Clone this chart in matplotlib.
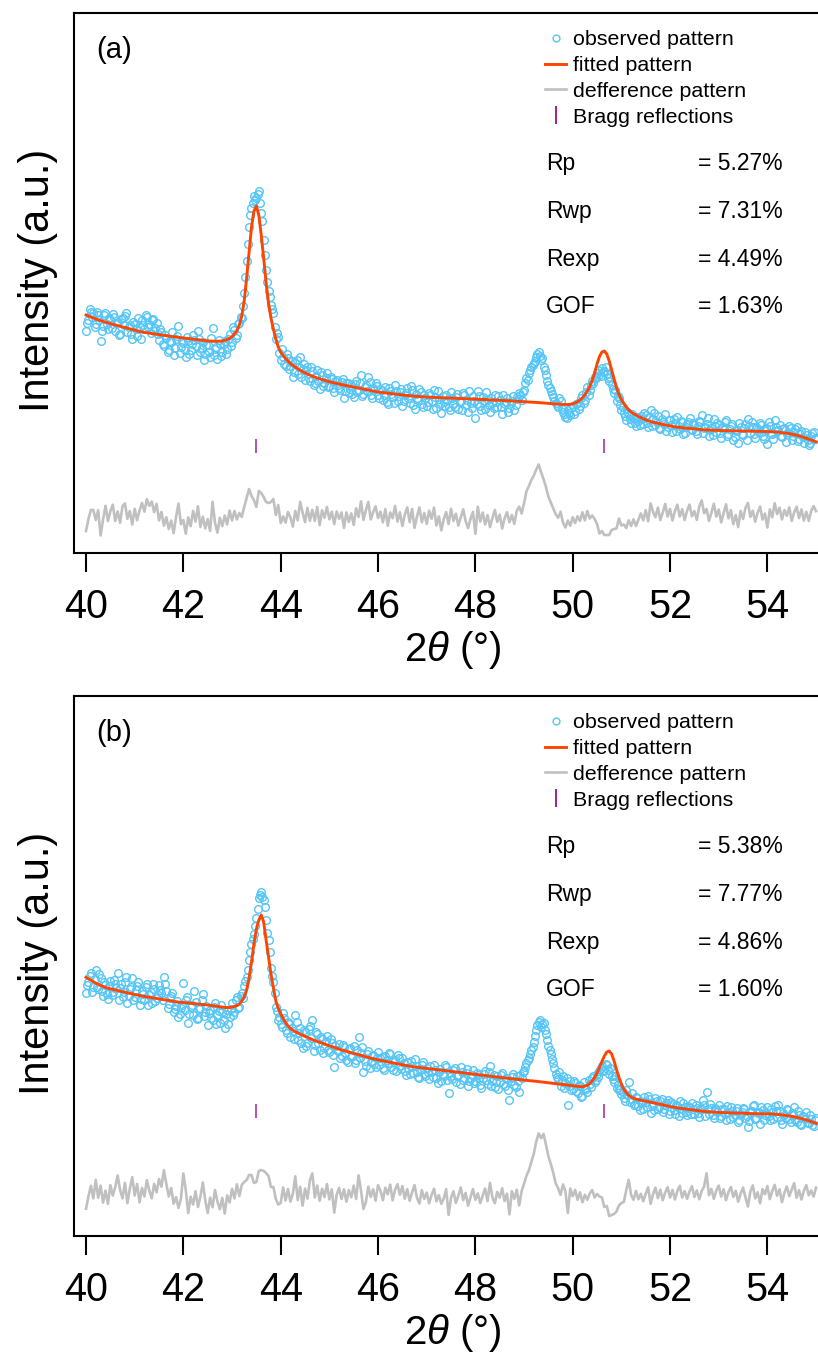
import numpy as np
import matplotlib
matplotlib.use("Agg")
import matplotlib.pyplot as plt
from matplotlib.lines import Line2D

plt.rcParams["font.family"] = ["Liberation Sans", "DejaVu Sans"]
plt.rcParams["mathtext.fontset"] = "custom"
plt.rcParams["mathtext.rm"] = "Liberation Sans"
plt.rcParams["mathtext.it"] = "Liberation Sans:italic"

# ---------------- data ----------------
# main 2theta grid 40.00 ... 55.00 (step 0.05); observed data also read at the
# intermediate positions 40.025 ... 54.975
two_theta_start = 40.0
two_theta_step = 0.05
n_points = 301

obs_a = [
    222, 233, 241, 240, 229, 238, 212, 227, 240, 224,
    233, 239, 222, 231, 219, 235, 237, 221, 228, 214,
    229, 217, 226, 233, 224, 236, 229, 233, 222, 230,
    213, 221, 207, 215, 203, 211, 198, 214, 227, 206,
    210, 196, 212, 203, 218, 207, 222, 201, 211, 199,
    208, 196, 225, 204, 194, 209, 201, 212, 204, 219,
    211, 223, 218, 230, 235, 260, 292, 326, 345, 357,
    355, 362, 340, 313, 283, 262, 248, 240, 214, 216,
    193, 196, 187, 195, 187, 176, 190, 179, 196, 184,
    173, 186, 172, 182, 170, 183, 164, 178, 170, 180,
    167, 174, 161, 173, 165, 171, 155, 170, 160, 168,
    156, 172, 163, 178, 159, 168, 176, 158, 165, 170,
    158, 164, 153, 166, 149, 162, 156, 168, 152, 161,
    147, 158, 165, 150, 163, 144, 155, 164, 149, 158,
    147, 160, 152, 163, 145, 154, 140, 151, 158, 146,
    161, 149, 156, 144, 152, 160, 148, 141, 150, 157,
    135, 162, 147, 156, 144, 153, 141, 150, 158, 146,
    153, 139, 149, 155, 145, 152, 143, 156, 160, 153,
    163, 175, 180, 186, 190, 196, 201, 193, 186, 178,
    168, 162, 156, 150, 146, 152, 141, 136, 143, 138,
    147, 142, 150, 147, 158, 153, 166, 163, 172, 176,
    180, 178, 185, 182, 179, 172, 168, 160, 152, 155,
    143, 140, 133, 138, 130, 135, 127, 132, 137, 129,
    138, 126, 143, 134, 128, 137, 124, 131, 139, 126,
    133, 121, 130, 136, 124, 131, 120, 129, 135, 123,
    128, 119, 132, 138, 125, 129, 117, 125, 134, 121,
    128, 115, 124, 133, 119, 127, 113, 122, 110, 126,
    118, 129, 134, 120, 126, 115, 124, 130, 117, 123,
    109, 127, 119, 133, 122, 128, 116, 125, 119, 127,
    113, 121, 126, 114, 122, 110, 118, 108, 117, 121,
    115,
]

obs_a_mid = [
    230, 244, 236, 226, 241, 233, 222, 238, 229, 235,
    225, 236, 230, 218, 234, 228, 240, 226, 219, 231,
    224, 235, 214, 228, 238, 226, 220, 234, 225, 219,
    224, 209, 218, 201, 212, 221, 205, 217, 200, 212,
    203, 216, 199, 209, 213, 198, 214, 205, 193, 208,
    201, 215, 198, 206, 213, 197, 209, 199, 214, 207,
    226, 215, 229, 236, 247, 276, 309, 338, 350, 353,
    359, 350, 332, 298, 271, 256, 244, 226, 220, 200,
    204, 189, 199, 184, 192, 181, 193, 186, 176, 189,
    183, 175, 186, 168, 177, 172, 181, 167, 175, 166,
    176, 165, 172, 168, 163, 174, 162, 170, 164, 159,
    169, 161, 170, 157, 166, 162, 171, 155, 163, 167,
    155, 163, 158, 151, 165, 159, 150, 162, 157, 164,
    152, 160, 155, 167, 148, 159, 153, 161, 146, 155,
    151, 158, 144, 156, 162, 149, 157, 147, 153, 143,
    155, 146, 159, 151, 143, 158, 153, 162, 145, 152,
    149, 157, 143, 152, 161, 148, 155, 145, 151, 157,
    146, 158, 151, 141, 150, 157, 148, 154, 158, 161,
    170, 173, 183, 188, 192, 199, 197, 195, 183, 172,
    165, 159, 152, 148, 155, 144, 139, 135, 140, 145,
    139, 149, 144, 155, 150, 161, 158, 168, 170, 175,
    183, 177, 181, 186, 175, 176, 164, 163, 157, 148,
    146, 137, 141, 134, 139, 130, 136, 128, 134, 140,
    130, 136, 127, 140, 131, 125, 134, 129, 122, 133,
    128, 134, 122, 127, 132, 119, 126, 131, 124, 130,
    122, 127, 131, 120, 126, 135, 123, 118, 127, 130,
    120, 126, 131, 117, 124, 129, 116, 123, 130, 119,
    125, 113, 127, 131, 119, 126, 121, 128, 114, 125,
    131, 120, 114, 126, 123, 117, 124, 111, 121, 125,
    117, 124, 112, 119, 116, 121, 113, 110, 120, 114,
]

fit_a = [
    238.0, 237.0, 236.0, 235.0, 234.0, 233.2, 232.4, 231.6, 230.8, 230.0,
    229.3, 228.7, 228.0, 227.4, 226.7, 226.1, 225.4, 224.8, 224.1, 223.5,
    222.8, 222.2, 221.5, 221.0, 220.6, 220.2, 219.8, 219.5, 219.1, 218.8,
    218.4, 218.0, 217.7, 217.3, 217.0, 216.6, 216.2, 215.9, 215.6, 215.3,
    215.0, 214.7, 214.4, 214.2, 213.9, 213.6, 213.3, 213.0, 212.7, 212.4,
    212.1, 211.9, 211.8, 211.7, 211.7, 211.8, 212.0, 212.6, 213.5, 214.6,
    216.5, 219.0, 222.5, 228.0, 237.0, 252.0, 275.0, 300.0, 326.0, 342.0,
    347.0, 338.0, 318.0, 295.0, 270.0, 250.0, 235.0, 224.0, 214.0, 206.0,
    201.0, 197.5, 194.5, 192.0, 189.5, 187.6, 185.9, 184.3, 182.8, 181.4,
    180.1, 178.9, 177.8, 176.8, 175.9, 175.0, 174.2, 173.4, 172.7, 172.0,
    171.3, 170.7, 170.1, 169.5, 168.9, 168.4, 167.9, 167.4, 166.9, 166.4,
    165.9, 165.4, 164.9, 164.4, 163.9, 163.4, 162.9, 162.4, 161.9, 161.4,
    161.0, 160.7, 160.4, 160.1, 159.8, 159.5, 159.2, 158.9, 158.6, 158.3,
    158.0, 157.7, 157.4, 157.2, 157.0, 156.8, 156.6, 156.4, 156.2, 156.0,
    155.9, 155.8, 155.7, 155.6, 155.5, 155.4, 155.3, 155.2, 155.1, 155.0,
    154.9, 154.8, 154.7, 154.6, 154.4, 154.3, 154.2, 154.1, 154.0, 153.9,
    153.8, 153.7, 153.6, 153.5, 153.4, 153.2, 153.1, 153.0, 152.9, 152.8,
    152.6, 152.5, 152.4, 152.3, 152.2, 152.0, 151.9, 151.8, 151.6, 151.5,
    151.3, 151.2, 151.0, 150.9, 150.7, 150.6, 150.4, 150.3, 150.1, 149.9,
    149.7, 149.5, 149.3, 149.1, 148.9, 148.7, 148.6, 148.5, 148.5, 148.7,
    149.2, 150.0, 151.3, 153.0, 155.3, 158.3, 162.0, 166.5, 172.5, 180.0,
    189.0, 196.5, 201.0, 202.0, 199.0, 192.0, 183.0, 174.0, 165.5, 158.5,
    153.5, 149.5, 146.0, 143.3, 141.0, 139.3, 137.9, 136.6, 135.4, 134.3,
    133.2, 132.2, 131.4, 130.8, 130.2, 129.6, 129.1, 128.6, 128.0, 127.5,
    127.0, 126.5, 126.1, 125.8, 125.5, 125.3, 125.0, 124.8, 124.6, 124.3,
    124.1, 123.9, 123.6, 123.4, 123.2, 123.0, 122.9, 122.8, 122.7, 122.6,
    122.5, 122.4, 122.4, 122.3, 122.3, 122.2, 122.2, 122.1, 122.1, 122.0,
    122.0, 121.9, 121.9, 121.8, 121.8, 121.7, 121.7, 121.6, 121.6, 121.5,
    121.5, 121.4, 121.3, 121.2, 121.0, 120.7, 120.4, 120.1, 119.8, 119.4,
    118.9, 118.4, 117.8, 117.1, 116.4, 115.6, 114.8, 113.9, 113.0, 112.1,
    111.2,
]

obs_b = [
    243, 254, 263, 249, 266, 247, 258, 240, 251, 237,
    255, 244, 252, 263, 248, 239, 254, 233, 247, 258,
    239, 250, 231, 245, 236, 252, 241, 233, 247, 238,
    251, 243, 259, 245, 232, 240, 224, 230, 219, 228,
    253, 236, 213, 229, 221, 234, 218, 228, 242, 224,
    211, 226, 216, 233, 221, 213, 224, 208, 226, 219,
    233, 224, 239, 229, 243, 250, 259, 276, 292, 302,
    318, 338, 344, 336, 316, 296, 268, 254, 229, 216,
    212, 223, 206, 214, 199, 205, 221, 196, 208, 188,
    204, 193, 210, 216, 191, 202, 186, 197, 188, 200,
    184, 193, 169, 186, 192, 180, 189, 176, 187, 179,
    190, 176, 199, 183, 164, 170, 185, 174, 181, 169,
    184, 178, 168, 180, 173, 182, 166, 176, 181, 170,
    178, 165, 174, 162, 170, 177, 164, 158, 171, 162,
    168, 157, 165, 171, 158, 164, 155, 160, 169, 143,
    160, 166, 154, 161, 169, 156, 163, 150, 158, 166,
    155, 161, 151, 158, 165, 152, 170, 155, 149, 160,
    154, 163, 150, 157, 136, 159, 151, 160, 144, 158,
    165, 173, 178, 186, 194, 206, 214, 209, 213, 202,
    190, 182, 173, 162, 157, 150, 160, 153, 131, 155,
    147, 153, 143, 150, 140, 148, 144, 152, 158, 154,
    162, 165, 170, 166, 171, 162, 160, 154, 148, 146,
    142, 138, 146, 154, 137, 131, 139, 130, 135, 127,
    134, 140, 123, 132, 138, 127, 135, 124, 131, 136,
    125, 132, 122, 130, 135, 123, 129, 121, 128, 133,
    122, 128, 119, 127, 131, 144, 122, 128, 118, 126,
    131, 120, 127, 116, 124, 129, 119, 125, 114, 122,
    128, 118, 109, 124, 130, 117, 123, 112, 126, 121,
    129, 116, 124, 130, 119, 125, 112, 121, 127, 117,
    123, 129, 114, 121, 111, 119, 124, 113, 117, 110,
    118,
]

obs_b_mid = [
    251, 260, 244, 257, 249, 262, 245, 254, 242, 250,
    241, 256, 248, 236, 252, 244, 259, 240, 249, 236,
    246, 254, 237, 242, 249, 231, 244, 252, 235, 241,
    246, 236, 252, 228, 238, 243, 227, 235, 222, 231,
    226, 239, 222, 231, 245, 217, 227, 236, 220, 230,
    223, 218, 229, 212, 225, 231, 216, 222, 212, 227,
    221, 236, 228, 240, 238, 255, 266, 284, 297, 310,
    327, 341, 339, 329, 303, 284, 260, 243, 225, 219,
    209, 218, 203, 212, 208, 197, 214, 203, 193, 206,
    190, 207, 198, 185, 204, 193, 199, 183, 195, 186,
    197, 181, 190, 185, 178, 191, 183, 174, 188, 180,
    173, 186, 178, 189, 175, 182, 168, 180, 172, 178,
    171, 179, 166, 176, 183, 169, 174, 165, 178, 167,
    173, 161, 168, 175, 163, 170, 159, 167, 174, 160,
    164, 170, 159, 166, 153, 167, 161, 171, 156, 163,
    157, 168, 160, 152, 164, 158, 167, 155, 161, 153,
    163, 157, 148, 162, 156, 164, 150, 161, 154, 147,
    161, 152, 158, 146, 155, 162, 149, 155, 161, 164,
    169, 176, 182, 189, 200, 211, 216, 212, 206, 196,
    186, 177, 168, 159, 164, 156, 148, 158, 150, 146,
    155, 145, 151, 139, 154, 147, 156, 149, 160, 156,
    159, 168, 165, 172, 166, 168, 157, 160, 151, 147,
    144, 135, 141, 134, 143, 132, 138, 126, 133, 139,
    129, 137, 130, 126, 135, 129, 137, 127, 133, 122,
    134, 126, 131, 120, 128, 133, 124, 130, 122, 127,
    131, 123, 127, 136, 120, 127, 132, 121, 128, 124,
    118, 127, 122, 130, 117, 125, 121, 128, 116, 124,
    127, 120, 115, 125, 131, 118, 124, 129, 116, 123,
    120, 127, 117, 125, 131, 116, 123, 118, 126, 114,
    121, 116, 125, 112, 120, 117, 113, 121, 111, 116,
]

fit_b = [
    258.7, 257.3, 255.8, 254.3, 252.9, 251.7, 250.6, 249.6, 248.6, 247.8,
    247.2, 246.6, 246.1, 245.5, 244.9, 244.4, 243.8, 243.2, 242.7, 242.1,
    241.5, 241.0, 240.4, 239.9, 239.5, 239.1, 238.7, 238.3, 237.9, 237.4,
    237.0, 236.6, 236.2, 235.8, 235.4, 235.0, 234.6, 234.2, 233.9, 233.7,
    233.4, 233.2, 233.0, 232.7, 232.5, 232.2, 232.0, 231.7, 231.5, 231.3,
    231.0, 230.7, 230.3, 230.0, 229.6, 229.3, 228.9, 228.6, 228.4, 228.4,
    228.8, 229.5, 230.3, 232.0, 235.0, 239.0, 246.0, 258.0, 274.0, 292.0,
    307.0, 316.0, 321.0, 314.0, 296.0, 279.0, 262.0, 248.0, 235.0, 227.5,
    222.0, 217.5, 213.5, 210.0, 207.6, 205.8, 204.3, 203.0, 201.8, 200.7,
    199.6, 198.6, 197.3, 196.4, 195.5, 194.6, 193.7, 192.8, 192.0, 191.1,
    190.3, 189.4, 188.6, 187.7, 186.9, 186.0, 185.3, 184.7, 184.0, 183.3,
    182.6, 182.0, 181.3, 180.6, 180.0, 179.3, 178.6, 177.9, 177.3, 176.6,
    176.2, 175.7, 175.2, 174.7, 174.2, 173.7, 173.2, 172.7, 172.2, 171.7,
    171.2, 170.7, 170.2, 169.8, 169.4, 169.1, 168.8, 168.5, 168.2, 167.9,
    167.6, 167.3, 167.0, 166.7, 166.4, 166.1, 165.8, 165.5, 165.2, 164.9,
    164.6, 164.3, 164.0, 163.7, 163.5, 163.2, 162.9, 162.6, 162.3, 162.0,
    161.7, 161.4, 161.1, 160.8, 160.5, 160.1, 159.8, 159.5, 159.2, 158.9,
    158.6, 158.3, 158.0, 157.7, 157.4, 157.2, 156.9, 156.7, 156.4, 156.2,
    155.9, 155.7, 155.4, 155.2, 154.9, 154.7, 154.4, 154.2, 153.9, 153.6,
    153.3, 153.0, 152.7, 152.4, 152.1, 151.8, 151.5, 151.2, 150.9, 150.6,
    150.3, 150.0, 149.7, 149.4, 149.3, 149.8, 150.8, 152.5, 155.0, 158.5,
    163.0, 168.5, 174.5, 180.0, 184.0, 185.0, 182.0, 175.0, 166.5, 158.5,
    152.0, 147.0, 143.3, 140.8, 139.0, 137.8, 136.9, 136.3, 135.8, 135.3,
    134.8, 134.3, 133.8, 133.3, 132.7, 132.2, 131.7, 131.2, 130.6, 130.1,
    129.5, 129.0, 128.5, 128.1, 127.8, 127.5, 127.1, 126.8, 126.5, 126.2,
    125.9, 125.5, 125.2, 124.9, 124.6, 124.3, 124.2, 124.0, 123.9, 123.7,
    123.6, 123.5, 123.3, 123.2, 123.1, 123.0, 122.9, 122.8, 122.7, 122.7,
    122.6, 122.6, 122.5, 122.5, 122.4, 122.4, 122.3, 122.3, 122.2, 122.2,
    122.1, 122.1, 122.0, 121.9, 121.7, 121.4, 121.1, 120.8, 120.5, 120.1,
    119.7, 119.2, 118.7, 118.1, 117.5, 116.8, 116.1, 115.3, 114.5, 113.6,
    112.7,
]

# offset at which each difference pattern (observed - fitted) is drawn
diff_offset_a = 38
diff_offset_b = 43

bragg_positions = [43.5, 50.65]
bragg_level_a = 107
bragg_level_b = 125

xtick_values = [40, 42, 44, 46, 48, 50, 52, 54]

stat_names = ["Rp", "Rwp", "Rexp", "GOF"]
stat_values_a = ["= 5.27%", "= 7.31%", "= 4.49%", "= 1.63%"]
stat_values_b = ["= 5.38%", "= 7.77%", "= 4.86%", "= 1.60%"]

legend_labels = ["observed pattern", "fitted pattern", "defference pattern", "Bragg reflections"]
panel_labels = ["(a)", "(b)"]

assert len(obs_a) == len(fit_a) == len(obs_b) == len(fit_b) == n_points
assert len(obs_a_mid) == len(obs_b_mid) == n_points - 1

# ---------------- styling ----------------
C_OBS = "#55c5f7"
C_FIT = "#ff4500"
C_DIFF = "#c0c0c0"
C_BRAGG = "#a020a0"

W, H = 818, 1356
fig = plt.figure(figsize=(W / 100, H / 100), dpi=100)

two_theta = np.round(two_theta_start + two_theta_step * np.arange(n_points), 3)
two_theta_mid = np.round(two_theta[:-1] + two_theta_step / 2, 3)


def draw_panel(ax, obs, obs_mid, fit, offset, bragg_level, label, stat_values):
    obs = np.asarray(obs, float)
    fit = np.asarray(fit, float)
    diff = obs - fit + offset

    # observed pattern: all measured points in 2theta order
    x_all = np.concatenate([two_theta, two_theta_mid])
    y_all = np.concatenate([obs, np.asarray(obs_mid, float)])
    order = np.argsort(x_all)
    h_obs, = ax.plot(x_all[order], y_all[order], "o", mfc="none", mec=C_OBS,
                     ms=5.5, mew=1.0, zorder=2)
    h_fit, = ax.plot(two_theta, fit, "-", color=C_FIT, lw=2.1, zorder=3)
    h_diff, = ax.plot(two_theta, diff, "-", color=C_DIFF, lw=1.9, zorder=1)
    ax.plot(bragg_positions, [bragg_level] * len(bragg_positions), "|",
            color=C_BRAGG, ms=10, mew=1.1, zorder=2)
    h_bragg = Line2D([], [], marker="|", ls="none", color=C_BRAGG, ms=14, mew=1.4)

    ax.set_xlim(39.753, 55.04)
    ax.set_ylim(0, 540)
    ax.set_xticks(xtick_values)
    ax.set_yticks([])
    ax.tick_params(axis="x", direction="out", length=14, width=1.5, pad=11.5,
                   labelsize=28.5, colors="black")
    for side in ("left", "top", "bottom"):
        ax.spines[side].set_linewidth(1.5)
    ax.spines["right"].set_visible(False)

    ax.set_xlabel(r"2$\theta$ (°)", fontsize=29, va="center")
    ax.xaxis.set_label_coords(0.509, -0.18)
    ax.set_ylabel("Intensity (a.u.)", fontsize=30, va="center")
    ax.yaxis.set_label_coords(-0.049, 0.505)

    ax.text(0.0296, 0.932, label, transform=ax.transAxes, fontsize=21,
            ha="left", va="center")

    ax.legend([h_obs, h_fit, h_diff, h_bragg], legend_labels,
              loc="upper left", bbox_to_anchor=(0.633, 0.968),
              frameon=False, fontsize=15.4, handlelength=1.0,
              handletextpad=0.3, labelspacing=0.32, borderpad=0,
              borderaxespad=0, markerscale=0.9)

    ys = [0.722, 0.633, 0.544, 0.457]
    for name, val, yy in zip(stat_names, stat_values, ys):
        ax.text(0.634, yy, name, transform=ax.transAxes, fontsize=16.5,
                ha="left", va="center")
        ax.text(0.839, yy, val, transform=ax.transAxes, fontsize=16.5,
                ha="left", va="center")


ax_a = fig.add_axes([74 / W, (H - 553) / H, (W - 74) / W, 540 / H])
ax_b = fig.add_axes([74 / W, (H - 1236) / H, (W - 74) / W, 540 / H])

draw_panel(ax_a, obs_a, obs_a_mid, fit_a, diff_offset_a, bragg_level_a,
           panel_labels[0], stat_values_a)
draw_panel(ax_b, obs_b, obs_b_mid, fit_b, diff_offset_b, bragg_level_b,
           panel_labels[1], stat_values_b)

fig.savefig("out.png", dpi=100)
